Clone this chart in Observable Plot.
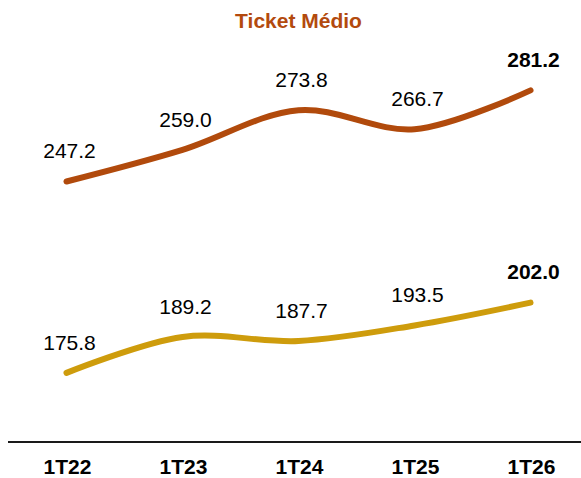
<!DOCTYPE html>
<html>
<head>
<meta charset="utf-8">
<script src="https://cdn.jsdelivr.net/npm/d3@7"></script>
<script src="https://cdn.jsdelivr.net/npm/@observablehq/plot@0.6"></script>
<style>
  html, body { margin: 0; padding: 0; background: #fff; }
  #title { height: 38px; width: 581px; padding-left: 16px; box-sizing: border-box;
    text-align: center; font: bold 21px "Liberation Sans", Arial, sans-serif; line-height: 42px; color: #B34A0E; }
  #chart svg { display: block; }
</style>
</head>
<body>
<div id="title">Ticket Médio</div>
<div id="chart"></div>
<script>
const categories = ["1T22", "1T23", "1T24", "1T25", "1T26"];
const seriesTop = [247.2, 259.0, 273.8, 266.7, 281.2];
const seriesBottom = [175.8, 189.2, 187.7, 193.5, 202.0];
const colorTop = "#B14A0C";
const colorBottom = "#CE9C0C";

const rows = (vals, name) => categories.map((c, i) => ({cat: c, v: vals[i], series: name, last: i === categories.length - 1}));
const rowsTop = rows(seriesTop, "top");
const rowsBottom = rows(seriesBottom, "bottom");
const rowsAll = rowsTop.concat(rowsBottom);
const font = '"Liberation Sans", Arial, sans-serif';

const chart = Plot.plot({
  width: 581,
  height: 440,
  marginLeft: 8,
  marginRight: 0,
  marginTop: 1.5,
  marginBottom: 36.5,
  style: {fontFamily: font, background: "transparent"},
  x: {type: "point", domain: categories, range: [66, 530], padding: 0, axis: null},
  y: {domain: [150, 300], axis: null},
  marks: [
    Plot.ruleY([150], {stroke: "#1a1a1a", strokeWidth: 2}),
    Plot.line(rowsTop, {x: "cat", y: "v", stroke: colorTop, strokeWidth: 6, curve: "catmull-rom", strokeLinecap: "round"}),
    Plot.line(rowsBottom, {x: "cat", y: "v", stroke: colorBottom, strokeWidth: 6, curve: "catmull-rom", strokeLinecap: "round"}),
    Plot.text(rowsAll.filter(d => !d.last), {x: "cat", y: "v", text: d => d.v.toFixed(1), dy: -30, dx: 3, fontSize: 21,
      fill: "#000"}),
    Plot.text(rowsAll.filter(d => d.last), {x: "cat", y: "v", text: d => d.v.toFixed(1), dy: -30, dx: 3, fontSize: 21,
      fontWeight: "bold", fill: "#000"}),
    Plot.text(categories, {x: d => d, y: 150, text: d => d, dy: 25, dx: 1, fontSize: 21, fontWeight: "bold", fill: "#000"})
  ]
});
document.getElementById("chart").appendChild(chart);
</script>
</body>
</html>
